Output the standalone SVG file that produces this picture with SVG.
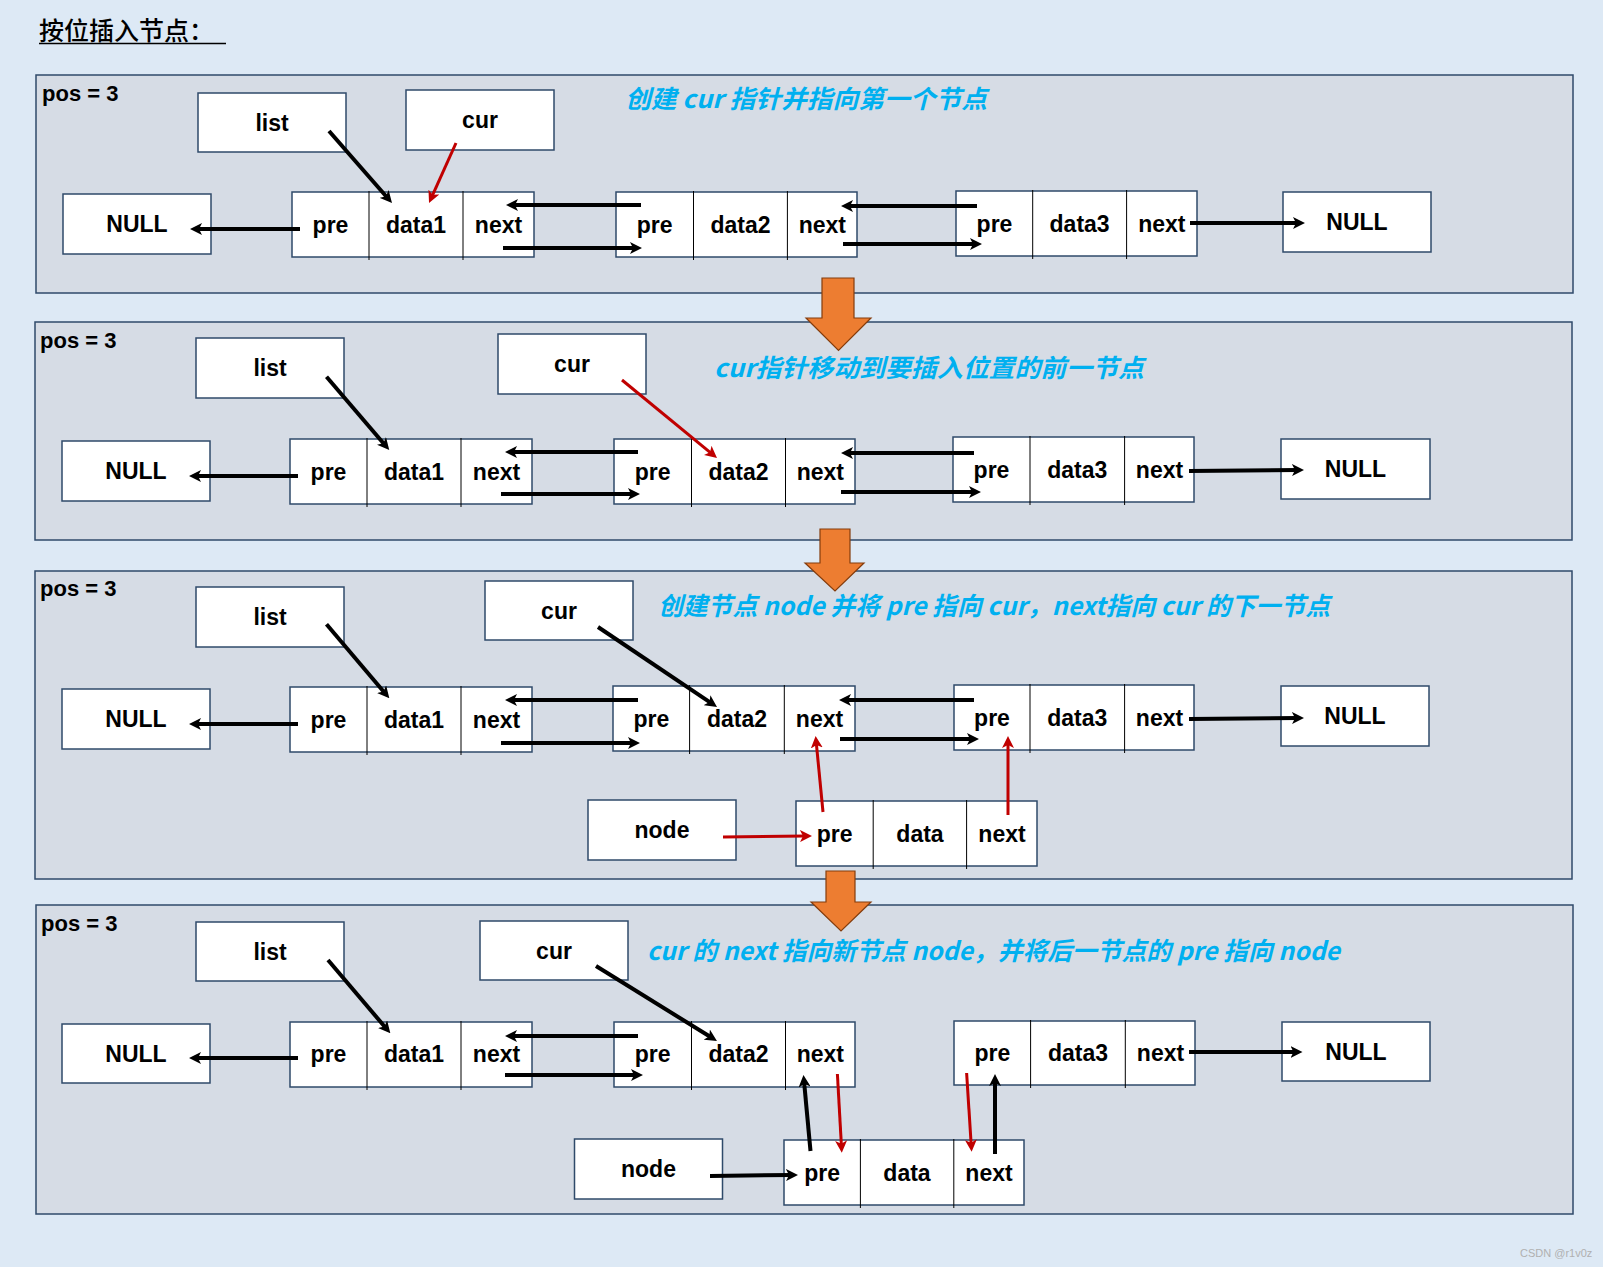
<svg xmlns="http://www.w3.org/2000/svg" width="1603" height="1267" viewBox="0 0 1603 1267">
<style>
.panel{fill:#d6dce5;stroke:#2f4a6a;stroke-width:1.5}
.box{fill:#fff;stroke:#2f4a6a;stroke-width:1.5}
.dv{stroke:#000;stroke-width:1}
.lbl{font-family:"Liberation Sans",Arial,sans-serif;font-weight:bold;font-size:23px;text-anchor:middle;fill:#000}
.pos{font-family:"Liberation Sans",Arial,sans-serif;font-weight:bold;font-size:22px;fill:#000}
.cap{font-family:"Noto Sans CJK SC",sans-serif;font-weight:bold;font-style:italic;font-size:25px;fill:#00b0f0}
.blk{stroke:#000;stroke-width:4;fill:none;marker-end:url(#ab)}
.red{stroke:#c00000;stroke-width:3;fill:none;marker-end:url(#ar)}
.down{fill:#ed7d31;stroke:#843c0c;stroke-width:1.2}
</style>
<defs>
<marker id="ab" viewBox="0 0 12 12" markerWidth="12" markerHeight="12" refX="5" refY="6" orient="auto" markerUnits="userSpaceOnUse"><path d="M0,0 L12,6 L0,12 L3,6 z" fill="#000"/></marker>
<marker id="ar" viewBox="0 0 12 12" markerWidth="12" markerHeight="12" refX="5" refY="6" orient="auto" markerUnits="userSpaceOnUse"><path d="M0,0 L12,6 L0,12 L3,6 z" fill="#c00000"/></marker>
</defs>
<rect x="0" y="0" width="1603" height="1267" fill="#dde9f5"/>
<g id="title">
<text x="39" y="40" font-family="'Noto Sans CJK SC',sans-serif" font-size="25" font-weight="500" fill="#000">按位插入节点：</text>
<line x1="39" y1="43.5" x2="226" y2="43.5" stroke="#000" stroke-width="1.5"/>
</g>

<!-- Panels -->
<g id="panel1"><rect class="panel" x="36" y="75" width="1537" height="218"/><text class="pos" x="42" y="101">pos = 3</text></g>
<g id="panel2"><rect class="panel" x="35" y="322" width="1537" height="218"/><text class="pos" x="40" y="348">pos = 3</text></g>
<g id="panel3"><rect class="panel" x="35" y="571" width="1537" height="308"/><text class="pos" x="40" y="596">pos = 3</text></g>
<g id="panel4"><rect class="panel" x="36" y="905" width="1537" height="309"/><text class="pos" x="41" y="931">pos = 3</text></g>

<!-- Step arrows -->
<g id="step-arrows">
<path class="down" d="M822,278 H854 V318 H871 L838.5,350.5 L806,318 H822 Z"/>
<path class="down" d="M820,529 H850 V563 H864 L835,591 L805,563 H820 Z"/>
<path class="down" d="M826,871 H855 V902 H871 L841,931 L811,902 H826 Z"/>
</g>

<!-- Captions -->
<text class="cap" x="625" y="108" textLength="362" lengthAdjust="spacingAndGlyphs">创建 cur 指针并指向第一个节点</text>
<text class="cap" x="714" y="377" textLength="430" lengthAdjust="spacingAndGlyphs">cur指针移动到要插入位置的前一节点</text>
<text class="cap" x="658" y="615" textLength="672" lengthAdjust="spacingAndGlyphs">创建节点 node 并将 pre 指向 cur，next指向 cur 的下一节点</text>
<text class="cap" x="647" y="960" textLength="693" lengthAdjust="spacingAndGlyphs">cur 的 next 指向新节点 node，并将后一节点的 pre 指向 node</text>

<!-- Panel 1 nodes -->
<g id="p1-list"><rect class="box" x="198" y="93" width="148" height="59"/><text class="lbl" x="272" y="130.5">list</text></g>
<g id="p1-cur"><rect class="box" x="406" y="90" width="148" height="60"/><text class="lbl" x="480" y="128">cur</text></g>
<g id="p1-nullL"><rect class="box" x="63" y="194" width="148" height="60"/><text class="lbl" x="137" y="232">NULL</text></g>
<g id="p1-n1"><rect class="box" x="292" y="192" width="242" height="65"/><line class="dv" x1="369" y1="191" x2="369" y2="260"/><line class="dv" x1="463" y1="191" x2="463" y2="260"/><text class="lbl" x="330.5" y="232.7">pre</text><text class="lbl" x="416" y="232.7">data1</text><text class="lbl" x="498.5" y="232.7">next</text></g>
<g id="p1-n2"><rect class="box" x="616" y="192" width="241" height="65"/><line class="dv" x1="693.5" y1="191" x2="693.5" y2="260"/><line class="dv" x1="787.4" y1="191" x2="787.4" y2="260"/><text class="lbl" x="654.7" y="232.7">pre</text><text class="lbl" x="740.5" y="232.7">data2</text><text class="lbl" x="822.3" y="232.7">next</text></g>
<g id="p1-n3"><rect class="box" x="956" y="191" width="241" height="65"/><line class="dv" x1="1032.7" y1="190" x2="1032.7" y2="259"/><line class="dv" x1="1126.6" y1="190" x2="1126.6" y2="259"/><text class="lbl" x="994.5" y="231.7">pre</text><text class="lbl" x="1079.6" y="231.7">data3</text><text class="lbl" x="1161.8" y="231.7">next</text></g>
<g id="p1-nullR"><rect class="box" x="1283" y="192" width="148" height="60"/><text class="lbl" x="1357" y="230">NULL</text></g>

<!-- Panel 2 nodes -->
<g id="p2-list"><rect class="box" x="196" y="338" width="148" height="60"/><text class="lbl" x="270" y="376">list</text></g>
<g id="p2-cur"><rect class="box" x="498" y="334" width="148" height="60"/><text class="lbl" x="572" y="372">cur</text></g>
<g id="p2-nullL"><rect class="box" x="62" y="441" width="148" height="60"/><text class="lbl" x="136" y="479">NULL</text></g>
<g id="p2-n1"><rect class="box" x="290" y="439" width="242" height="65"/><line class="dv" x1="367" y1="438" x2="367" y2="507"/><line class="dv" x1="461" y1="438" x2="461" y2="507"/><text class="lbl" x="328.5" y="479.7">pre</text><text class="lbl" x="414" y="479.7">data1</text><text class="lbl" x="496.5" y="479.7">next</text></g>
<g id="p2-n2"><rect class="box" x="614" y="439" width="241" height="65"/><line class="dv" x1="691.5" y1="438" x2="691.5" y2="507"/><line class="dv" x1="785.5" y1="438" x2="785.5" y2="507"/><text class="lbl" x="652.7" y="479.7">pre</text><text class="lbl" x="738.5" y="479.7">data2</text><text class="lbl" x="820.3" y="479.7">next</text></g>
<g id="p2-n3"><rect class="box" x="953" y="437" width="241" height="65"/><line class="dv" x1="1030" y1="436" x2="1030" y2="505"/><line class="dv" x1="1124.6" y1="436" x2="1124.6" y2="505"/><text class="lbl" x="991.5" y="477.7">pre</text><text class="lbl" x="1077.3" y="477.7">data3</text><text class="lbl" x="1159.5" y="477.7">next</text></g>
<g id="p2-nullR"><rect class="box" x="1281" y="439" width="149" height="60"/><text class="lbl" x="1355.5" y="477">NULL</text></g>

<!-- Panel 3 nodes -->
<g id="p3-list"><rect class="box" x="196" y="587" width="148" height="60"/><text class="lbl" x="270" y="625">list</text></g>
<g id="p3-cur"><rect class="box" x="485" y="581" width="148" height="59"/><text class="lbl" x="559" y="618.5">cur</text></g>
<g id="p3-nullL"><rect class="box" x="62" y="689" width="148" height="60"/><text class="lbl" x="136" y="727">NULL</text></g>
<g id="p3-n1"><rect class="box" x="290" y="687" width="242" height="65"/><line class="dv" x1="367" y1="686" x2="367" y2="755"/><line class="dv" x1="461" y1="686" x2="461" y2="755"/><text class="lbl" x="328.5" y="727.7">pre</text><text class="lbl" x="414" y="727.7">data1</text><text class="lbl" x="496.5" y="727.7">next</text></g>
<g id="p3-n2"><rect class="box" x="613" y="686" width="242" height="65"/><line class="dv" x1="689.6" y1="685" x2="689.6" y2="754"/><line class="dv" x1="784.3" y1="685" x2="784.3" y2="754"/><text class="lbl" x="651.3" y="726.7">pre</text><text class="lbl" x="737" y="726.7">data2</text><text class="lbl" x="819.5" y="726.7">next</text></g>
<g id="p3-n3"><rect class="box" x="954" y="685" width="240" height="65"/><line class="dv" x1="1030" y1="684" x2="1030" y2="753"/><line class="dv" x1="1124.6" y1="684" x2="1124.6" y2="753"/><text class="lbl" x="992" y="725.7">pre</text><text class="lbl" x="1077.3" y="725.7">data3</text><text class="lbl" x="1159.5" y="725.7">next</text></g>
<g id="p3-nullR"><rect class="box" x="1281" y="686" width="148" height="60"/><text class="lbl" x="1355" y="724">NULL</text></g>
<g id="p3-node"><rect class="box" x="588" y="800" width="148" height="60"/><text class="lbl" x="662" y="838">node</text></g>
<g id="p3-new"><rect class="box" x="796" y="801" width="241" height="65"/><line class="dv" x1="873.2" y1="800" x2="873.2" y2="869"/><line class="dv" x1="966.6" y1="800" x2="966.6" y2="869"/><text class="lbl" x="834.6" y="841.7">pre</text><text class="lbl" x="920" y="841.7">data</text><text class="lbl" x="1002" y="841.7">next</text></g>

<!-- Panel 4 nodes -->
<g id="p4-list"><rect class="box" x="196" y="922" width="148" height="59"/><text class="lbl" x="270" y="959.5">list</text></g>
<g id="p4-cur"><rect class="box" x="480" y="921" width="148" height="59"/><text class="lbl" x="554" y="958.5">cur</text></g>
<g id="p4-nullL"><rect class="box" x="62" y="1024" width="148" height="59"/><text class="lbl" x="136" y="1061.5">NULL</text></g>
<g id="p4-n1"><rect class="box" x="290" y="1022" width="242" height="65"/><line class="dv" x1="367" y1="1021" x2="367" y2="1090"/><line class="dv" x1="461" y1="1021" x2="461" y2="1090"/><text class="lbl" x="328.5" y="1062.2">pre</text><text class="lbl" x="414" y="1062.2">data1</text><text class="lbl" x="496.5" y="1062.2">next</text></g>
<g id="p4-n2"><rect class="box" x="614" y="1022" width="241" height="65"/><line class="dv" x1="691.5" y1="1021" x2="691.5" y2="1090"/><line class="dv" x1="785.5" y1="1021" x2="785.5" y2="1090"/><text class="lbl" x="652.7" y="1062.2">pre</text><text class="lbl" x="738.5" y="1062.2">data2</text><text class="lbl" x="820.3" y="1062.2">next</text></g>
<g id="p4-n3"><rect class="box" x="954" y="1021" width="241" height="64"/><line class="dv" x1="1030.6" y1="1020" x2="1030.6" y2="1088"/><line class="dv" x1="1125.3" y1="1020" x2="1125.3" y2="1088"/><text class="lbl" x="992.3" y="1061">pre</text><text class="lbl" x="1078" y="1061">data3</text><text class="lbl" x="1160.5" y="1061">next</text></g>
<g id="p4-nullR"><rect class="box" x="1282" y="1022" width="148" height="59"/><text class="lbl" x="1356" y="1059.5">NULL</text></g>
<g id="p4-node"><rect class="box" x="574.5" y="1139" width="148" height="60"/><text class="lbl" x="648.5" y="1177">node</text></g>
<g id="p4-new"><rect class="box" x="784" y="1140" width="240" height="65"/><line class="dv" x1="860.4" y1="1139" x2="860.4" y2="1208"/><line class="dv" x1="953.8" y1="1139" x2="953.8" y2="1208"/><text class="lbl" x="822.2" y="1180.8">pre</text><text class="lbl" x="907" y="1180.8">data</text><text class="lbl" x="989" y="1180.8">next</text></g>

<!-- Connectors -->
<g id="connectors">
<line class="blk" x1="329" y1="131" x2="387.4" y2="197.7"/>
<line class="red" x1="456" y1="143" x2="431.9" y2="196.6"/>
<line class="blk" x1="300" y1="229" x2="197" y2="229"/>
<line class="blk" x1="641" y1="205" x2="513" y2="205"/>
<line class="blk" x1="503" y1="248" x2="635" y2="248"/>
<line class="blk" x1="977" y1="206" x2="848" y2="206"/>
<line class="blk" x1="843" y1="244" x2="975" y2="244"/>
<line class="blk" x1="1190" y1="223" x2="1298" y2="223"/>

<line class="blk" x1="326.5" y1="376.7" x2="384.7" y2="444.7"/>
<line class="red" x1="622" y1="380" x2="711.6" y2="453.6"/>
<line class="blk" x1="298" y1="476" x2="196" y2="476"/>
<line class="blk" x1="638" y1="452" x2="512" y2="452"/>
<line class="blk" x1="501" y1="494" x2="633" y2="494"/>
<line class="blk" x1="974" y1="453" x2="848" y2="453"/>
<line class="blk" x1="841" y1="492" x2="974" y2="492"/>
<line class="blk" x1="1189" y1="471" x2="1297" y2="470"/>

<line class="blk" x1="326.5" y1="624.3" x2="384.8" y2="693"/>
<line class="blk" x1="598" y1="627" x2="711.2" y2="703.1"/>
<line class="blk" x1="298" y1="724" x2="196" y2="724"/>
<line class="blk" x1="638" y1="700" x2="512" y2="700"/>
<line class="blk" x1="501" y1="743" x2="633" y2="743"/>
<line class="blk" x1="974" y1="700" x2="846" y2="700"/>
<line class="blk" x1="840" y1="739" x2="972" y2="739"/>
<line class="blk" x1="1189" y1="719" x2="1297" y2="718"/>
<line class="red" x1="723" y1="837" x2="805" y2="836"/>
<line class="red" x1="823" y1="812" x2="816.3" y2="743"/>
<line class="red" x1="1008" y1="815" x2="1008" y2="743"/>

<line class="blk" x1="328" y1="960" x2="385.8" y2="1028"/>
<line class="blk" x1="596" y1="966" x2="711" y2="1037.3"/>
<line class="blk" x1="298" y1="1058" x2="196" y2="1058"/>
<line class="blk" x1="638" y1="1036" x2="512" y2="1036"/>
<line class="blk" x1="505" y1="1075" x2="636" y2="1075"/>
<line class="blk" x1="1189" y1="1052" x2="1295.5" y2="1052"/>
<line class="blk" x1="710" y1="1176" x2="791" y2="1175"/>
<line class="blk" x1="810.5" y1="1151" x2="804.1" y2="1082"/>
<line class="red" x1="837.4" y1="1074" x2="841.4" y2="1145.7"/>
<line class="red" x1="966.6" y1="1073" x2="971.2" y2="1144.7"/>
<line class="blk" x1="995" y1="1154" x2="995" y2="1081"/>
</g>

<text x="1520" y="1257" font-family="'Liberation Sans',Arial,sans-serif" font-size="11" fill="#b0b0b0">CSDN @r1v0z</text>
</svg>
